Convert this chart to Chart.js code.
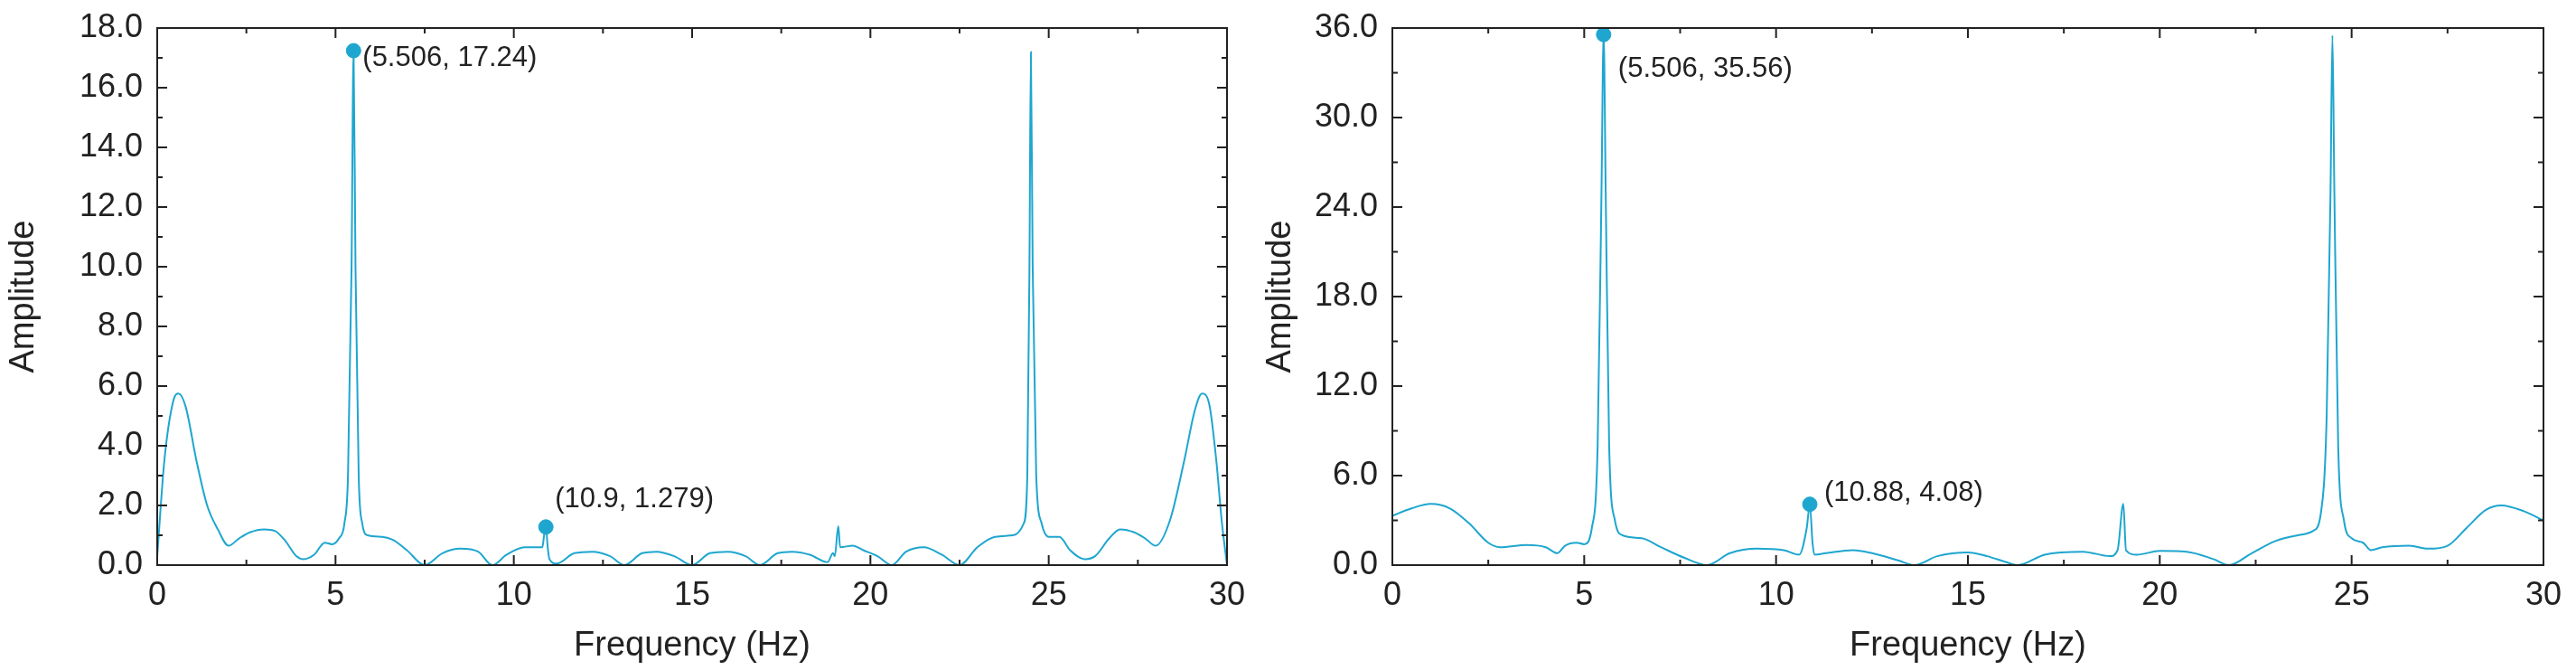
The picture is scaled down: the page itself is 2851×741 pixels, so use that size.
<!DOCTYPE html>
<html><head><meta charset="utf-8">
<script src="https://cdn.jsdelivr.net/npm/chart.js@4.4.1/dist/chart.umd.min.js"></script>
<style>html,body{margin:0;padding:0;background:#fff}#wrap{position:relative;width:2851px;height:741px}
.c{position:absolute;top:0;height:741px}</style></head>
<body><div id="wrap"><div class="c" style="left:0;width:1425px"><canvas id="a"></canvas></div><div class="c" style="left:1391px;width:1460px"><canvas id="b"></canvas></div></div>
<script>
const freqA=[0,0.2,0.45,0.6,0.8,1.1,1.4,1.7,2.0,2.3,2.6,3.0,3.3,3.6,3.9,4.1,4.4,4.7,4.9,5.1,5.25,5.35,5.45,5.506,5.56,5.65,5.75,5.9,6.3,6.6,7.0,7.5,8.0,8.5,9.0,9.4,9.8,10.3,10.8,10.85,10.9,10.95,11.0,11.2,11.7,12.2,12.7,13.1,13.6,14.0,14.5,15.0,15.5,16.0,16.5,16.9,17.4,17.8,18.3,18.8,18.95,19.0,19.1,19.15,19.5,19.8,20.2,20.6,21.0,21.5,22.0,22.5,23.0,23.5,24.0,24.3,24.4,24.46,24.5,24.55,24.65,24.8,25.0,25.3,25.6,26.0,26.3,26.7,27.0,27.4,27.7,28.0,28.4,28.8,29.1,29.3,29.5,29.7,29.85,30];
const ampA=[0.3,3.5,5.5,5.75,5.3,3.5,2.0,1.2,0.65,0.9,1.1,1.2,1.15,0.8,0.3,0.2,0.35,0.75,0.7,0.9,1.4,3,10,17.24,10,3,1.4,1.0,0.95,0.85,0.5,0.0,0.4,0.55,0.45,0.0,0.35,0.6,0.6,1.0,1.279,0.6,0.2,0.05,0.4,0.45,0.3,0.0,0.4,0.45,0.3,0.0,0.4,0.45,0.3,0.0,0.4,0.45,0.35,0.1,0.4,0.3,1.3,0.6,0.65,0.5,0.3,0.0,0.45,0.6,0.35,0.0,0.6,0.95,1.0,1.4,3,10,17.2,10,3,1.4,0.95,0.95,0.5,0.2,0.3,0.9,1.2,1.1,0.9,0.65,1.5,3.5,5.2,5.75,5.4,3.5,1.5,0.0];
const freqB=[0,0.5,1.0,1.5,2.0,2.5,2.8,3.5,4.0,4.3,4.5,4.8,5.0,5.2,5.35,5.45,5.506,5.56,5.65,5.8,6.0,6.5,7.0,7.6,8.2,8.8,9.5,10.2,10.6,10.8,10.88,10.95,11.0,11.3,12.0,12.5,13.2,13.6,14.2,15.0,15.5,16.0,16.3,17.0,18.0,18.7,18.9,19.05,19.12,19.4,20.0,20.7,21.4,21.8,22.4,23.0,23.6,24.0,24.2,24.35,24.45,24.5,24.55,24.65,24.8,25.0,25.3,25.5,25.8,26.5,27.0,27.5,28.0,28.5,28.9,29.5,30.0];
const ampB=[3.3,3.8,4.1,3.8,2.8,1.5,1.2,1.35,1.2,0.8,1.3,1.5,1.4,2.5,8,25,35.56,25,8,3,2.0,1.8,1.2,0.5,0.0,0.8,1.1,1.0,0.7,2.5,4.08,1.5,0.7,0.8,1.0,0.8,0.3,0.0,0.6,0.85,0.6,0.2,0.0,0.7,0.9,0.6,1.0,4.1,1.0,0.7,0.95,0.9,0.4,0.0,0.8,1.6,2.0,2.3,3.5,10,25,35.5,25,8,3.0,1.8,1.5,1.0,1.2,1.3,1.1,1.3,2.5,3.7,4.0,3.6,3.0];
const peaksA={x:[5.506,10.9],y:[17.24,1.279],labels:['(5.506, 17.24)','(10.9, 1.279)']};
const peaksB={x:[5.506,10.88],y:[35.56,4.08],labels:['(5.506, 35.56)','(10.88, 4.08)']};
const xTicks=[0,5,10,15,20,25,30];
const COL='#1ea6cf';
const FONT='"Liberation Sans", Arial, sans-serif';

function make(id,w,fx,fy,pk,ymax,ystep,padR,yWidth,labelOff){
  const cv=document.getElementById(id);cv.width=w;cv.height=741;
  const line=fx.map((x,i)=>({x,y:fy[i]}));
  const pts=pk.x.map((x,i)=>({x,y:pk.y[i]}));
  const deco={id:'deco',afterDraw(ch){
    const c=ch.ctx,a=ch.chartArea,xs=ch.scales.x,ys=ch.scales.y;
    c.save();c.strokeStyle='#222';c.lineWidth=2;
    c.strokeRect(a.left,a.top,a.right-a.left,a.bottom-a.top);
    for(let v=0;v<=30;v+=2.5){const p=xs.getPixelForValue(v);const L=(v%5===0)?11:6;
      c.beginPath();c.moveTo(p,a.bottom);c.lineTo(p,a.bottom-L);c.moveTo(p,a.top);c.lineTo(p,a.top+L);c.stroke();}
    for(let v=0;v<=ymax+1e-9;v+=ystep/2){const p=ys.getPixelForValue(v);const L=(Math.abs(v/ystep-Math.round(v/ystep))<1e-6)?11:6;
      c.beginPath();c.moveTo(a.left,p);c.lineTo(a.left+L,p);c.moveTo(a.right,p);c.lineTo(a.right-L,p);c.stroke();}
    c.fillStyle='#222';c.font='31px '+FONT;c.textBaseline='middle';c.textAlign='left';
    pk.labels.forEach((t,i)=>{const px=xs.getPixelForValue(pk.x[i]),py=ys.getPixelForValue(pk.y[i]);
      c.fillText(t,px+labelOff[i][0],py+labelOff[i][1]);});
    c.restore();}};
  new Chart(cv,{type:'line',
    data:{datasets:[{data:line,borderColor:COL,borderWidth:2,pointRadius:0,cubicInterpolationMode:'monotone',fill:false},
      {data:pts,showLine:false,pointRadius:8,pointBackgroundColor:COL,pointBorderColor:COL}]},
    options:{responsive:false,animation:false,devicePixelRatio:1,
      layout:{padding:{top:31,right:padR,left:0,bottom:0}},
      plugins:{legend:{display:false},tooltip:{enabled:false}},
      scales:{
        x:{type:'linear',min:0,max:30,grid:{display:false},border:{display:false},
          afterBuildTicks(s){s.ticks=xTicks.map(v=>({value:v}));},
          afterFit(s){s.height=116;},
          ticks:{color:'#222',font:{size:36,family:FONT},padding:4,maxRotation:0},
          title:{display:true,text:'Frequency (Hz)',color:'#222',font:{size:38,family:FONT},padding:{top:0}}},
        y:{min:0,max:ymax,grid:{display:false},border:{display:false},
          afterBuildTicks(s){const t=[];for(let v=0;v<=ymax+1e-9;v+=ystep)t.push({value:v});s.ticks=t;},
          afterFit(s){s.width=yWidth;},
          ticks:{color:'#222',font:{size:36,family:FONT},padding:8,callback:v=>v.toFixed(1)},
          title:{display:true,text:'Amplitude',color:'#222',font:{size:38,family:FONT},padding:{bottom:4}}}}},
    plugins:[deco]});
}
make('a',1425,freqA,ampA,peaksA,18,2,67,174,[[10,8],[10,-30]]);
make('b',1460,freqB,ampB,peaksB,36,6,36,150,[[16,38],[16,-12]]);
</script></body></html>
